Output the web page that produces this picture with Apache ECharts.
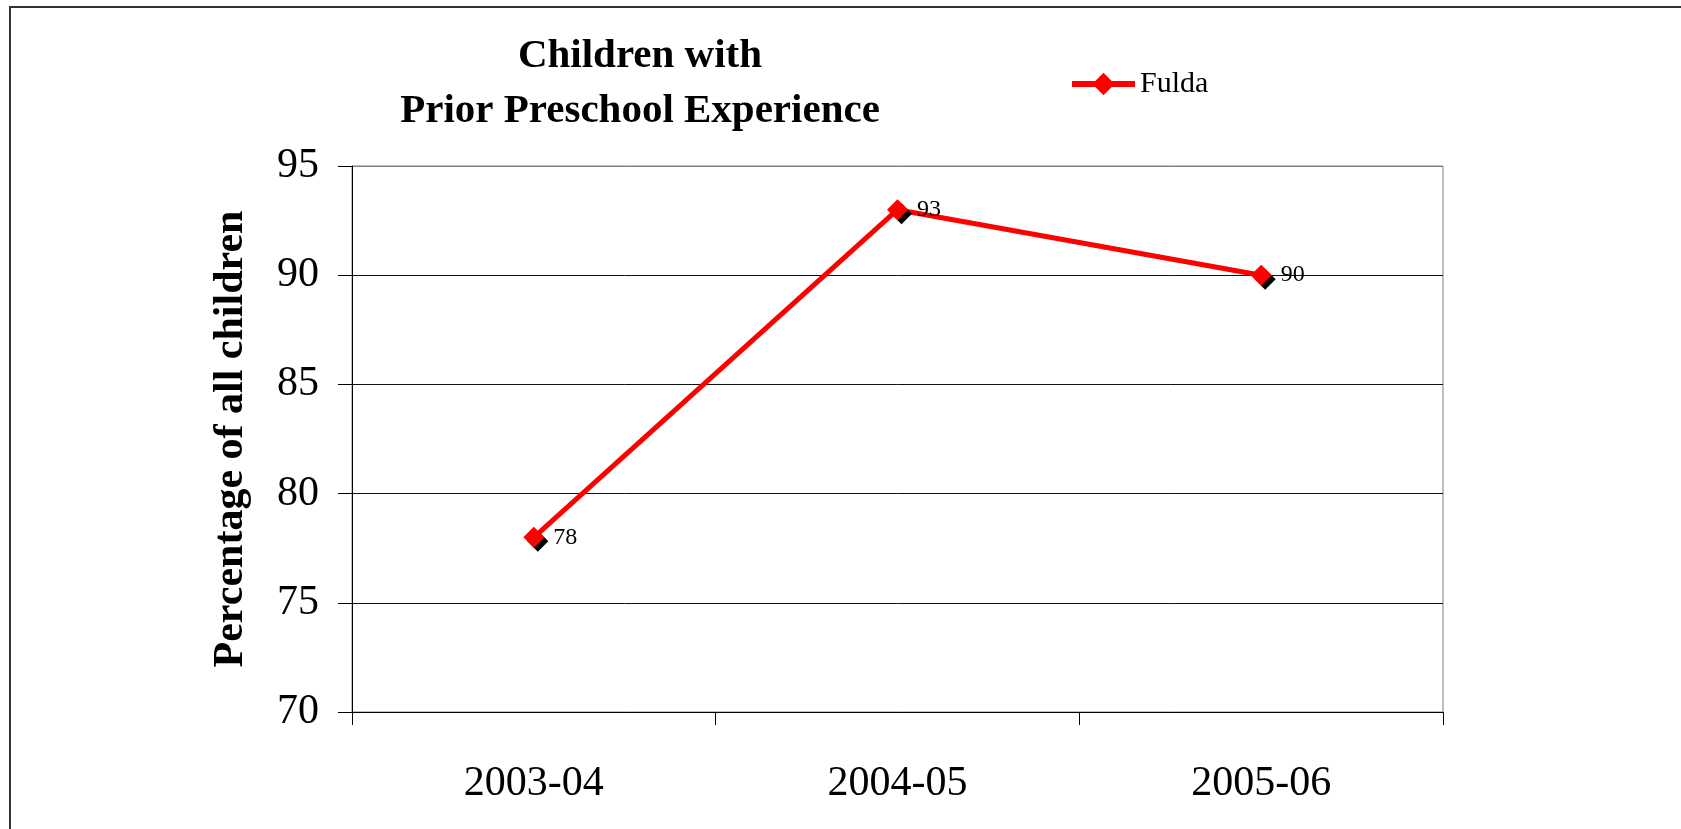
<!DOCTYPE html>
<html>
<head>
<meta charset="utf-8">
<script src="https://cdn.jsdelivr.net/npm/echarts@6/dist/echarts.min.js"></script>
<style>
  html, body { margin: 0; padding: 0; background: #fff; }
  #chart { width: 1681px; height: 829px; }
</style>
</head>
<body>
<div id="chart"></div>
<script>
// School years on the category axis
const years = ['2003-04', '2004-05', '2005-06'];
// Share of children with prior preschool experience (%)
const fulda = [78, 93, 90];
// Value axis range
const yMin = 70;
const yMax = 95;
const yStep = 5;

const serif = '"Liberation Serif", "Times New Roman", serif';

const chart = echarts.init(document.getElementById('chart'), null, { renderer: 'canvas' });

chart.setOption({
  backgroundColor: '#ffffff',
  animation: false,
  title: {
    text: 'Children with\nPrior Preschool Experience',
    left: 640,
    top: 29,
    padding: 0,
    textAlign: 'center',
    textStyle: {
      fontFamily: serif,
      fontWeight: 'bold',
      fontSize: 41,
      lineHeight: 55,
      color: '#000'
    }
  },
  legend: {
    data: ['Fulda'],
    left: 1069,
    top: 69,
    padding: 0,
    itemWidth: 63,
    itemHeight: 28,
    itemGap: 6,
    lineStyle: { width: 6, color: '#ff0000' },
    itemStyle: { color: '#ff0000', shadowColor: 'rgba(0,0,0,0)', shadowOffsetX: 0, shadowOffsetY: 0 },
    textStyle: { fontFamily: serif, fontSize: 30, color: '#000' }
  },
  grid: {
    left: 352,
    right: 238,
    top: 166,
    bottom: 117,
    show: true,
    borderColor: '#808080',
    borderWidth: 1,
    backgroundColor: 'transparent'
  },
  xAxis: {
    type: 'category',
    data: years,
    boundaryGap: true,
    axisLine: { lineStyle: { color: '#000', width: 1 } },
    axisTick: { show: true, length: 13, inside: false, lineStyle: { color: '#000' } },
    axisLabel: { fontFamily: serif, fontSize: 42, color: '#000', margin: 51 },
    splitLine: { show: false }
  },
  yAxis: {
    type: 'value',
    min: yMin,
    max: yMax,
    interval: yStep,
    name: 'Percentage of all children',
    nameLocation: 'middle',
    nameGap: 100,
    nameTextStyle: { fontFamily: serif, fontWeight: 'bold', fontSize: 42, color: '#000' },
    axisLine: { show: true, lineStyle: { color: '#000', width: 1 } },
    axisTick: { show: true, length: 14, inside: false, lineStyle: { color: '#000' } },
    axisLabel: { fontFamily: serif, fontSize: 42, color: '#000', margin: 33, padding: [12, 0, 0, 0] },
    splitLine: {
      show: true,
      lineStyle: { color: ['#000', '#111', '#111', '#111', '#111', '#808080'], width: 1 }
    }
  },
  series: [{
    name: 'Fulda',
    type: 'line',
    data: fulda,
    symbol: 'diamond',
    symbolSize: 21,
    lineStyle: { color: '#ff0000', width: 5 },
    itemStyle: {
      color: '#ff0000',
      shadowColor: '#000',
      shadowBlur: 0,
      shadowOffsetX: 4,
      shadowOffsetY: 4
    },
    label: {
      show: true,
      position: 'right',
      distance: 9,
      fontFamily: serif,
      fontSize: 24,
      color: '#000'
    }
  }],
  graphic: [{
    type: 'rect',
    silent: true,
    shape: { x: 10, y: 7, width: 1700, height: 900 },
    style: { fill: 'none', stroke: '#333', lineWidth: 2 }
  }]
});
</script>
</body>
</html>
